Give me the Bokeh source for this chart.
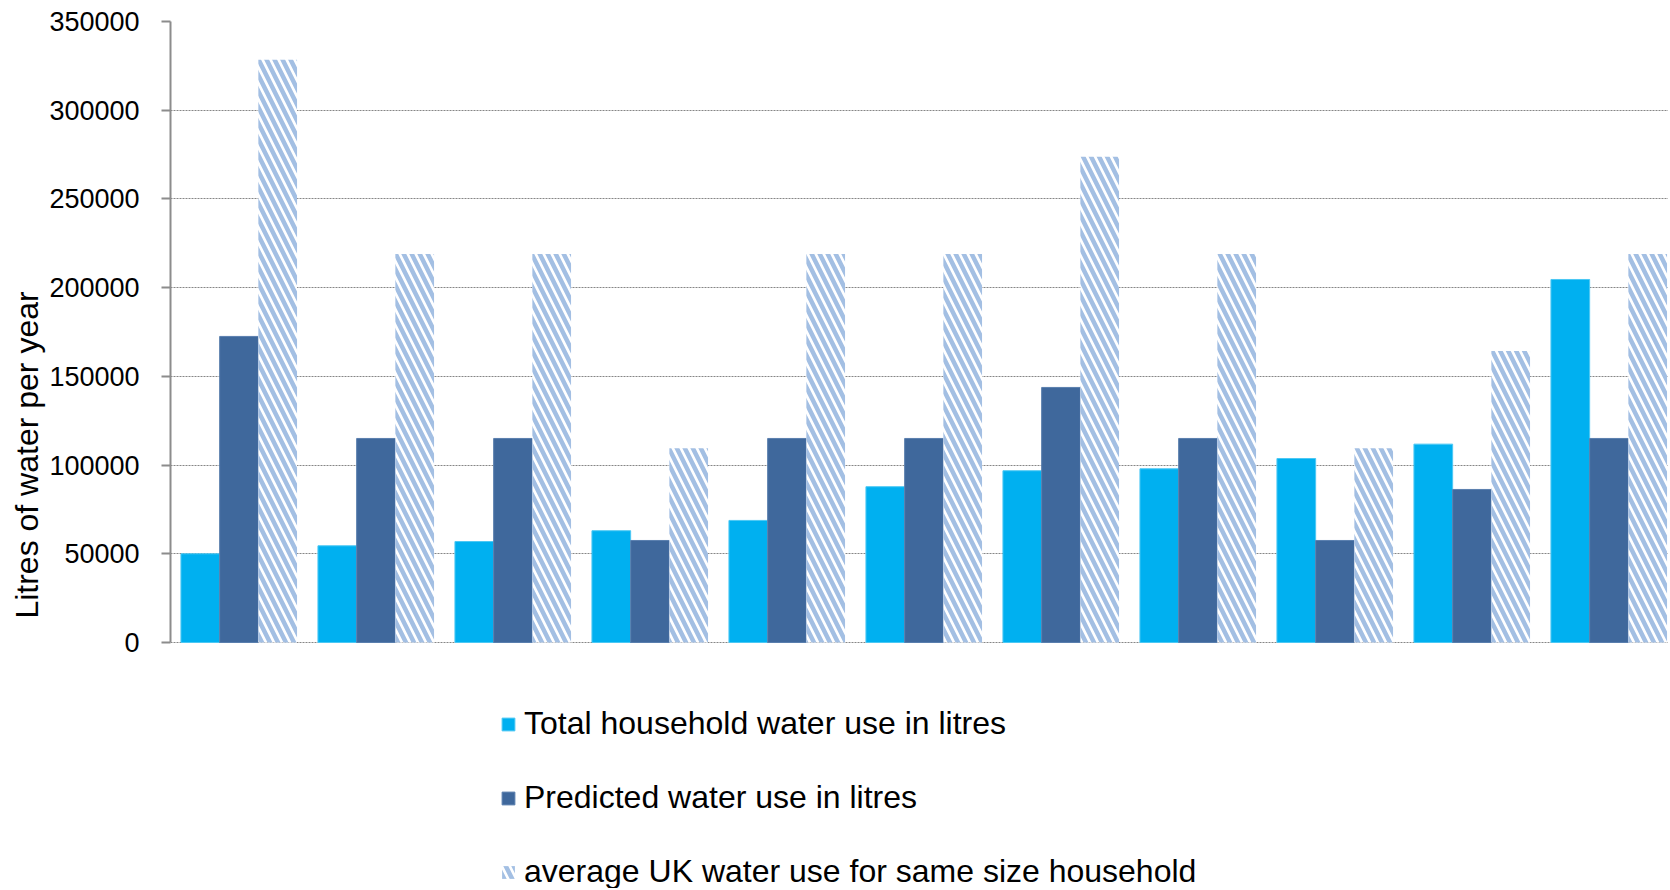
from bokeh.plotting import figure
from bokeh.models import ColumnDataSource, Range1d, FixedTicker, NumeralTickFormatter, Legend, LegendItem
from bokeh.embed import file_html
from bokeh.resources import INLINE

# ---- data ----
households = ["H1", "H2", "H3", "H4", "H5", "H6", "H7", "H8", "H9", "H10", "H11"]
total_use = [50000, 54500, 56900, 63000, 68800, 87800, 96800, 97900, 103700, 111800, 204600]
predicted_use = [172500, 115000, 115000, 57500, 115000, 115000, 143750, 115000, 57500, 86250, 115000]
uk_average = [328500, 219000, 219000, 109500, 219000, 219000, 273750, 219000, 109500, 164250, 219000]
y_ticks = [0, 50000, 100000, 150000, 200000, 250000, 300000, 350000]
series_names = ["Total household water use in litres",
                "Predicted water use in litres",
                "average UK water use for same size household"]

FONT = "Liberation Sans"
W, H = 1668, 888
LEFT, TOP = 170, 21
ZERO_Y = 642            # pixel row (in figure) of the value 0
FRAME_W = W - LEFT
SLOT_PX = 137.0
BAR = 38.7 / SLOT_PX
Y_MAX = 350000
Y_MIN = -Y_MAX * (H - ZERO_Y) / (ZERO_Y - TOP)   # room below the axis for the legend

idx = list(range(len(households)))
src = ColumnDataSource(dict(
    x1=[i + 0.5 - BAR for i in idx],
    x2=[i + 0.5 for i in idx],
    x3=[i + 0.5 + BAR for i in idx],
    total=total_use, pred=predicted_use, uk=uk_average,
))

p = figure(width=W, height=H, output_backend="svg", toolbar_location=None,
           x_range=Range1d(0, FRAME_W / SLOT_PX), y_range=Range1d(Y_MIN, Y_MAX),
           min_border_left=LEFT, min_border_right=0, min_border_top=TOP, min_border_bottom=0)
p.outline_line_color = None
p.background_fill_color = "white"
p.border_fill_color = "white"
p.xaxis.visible = False

p.xgrid.grid_line_color = None
p.ygrid.ticker = FixedTicker(ticks=y_ticks)
p.ygrid.grid_line_color = "#868686"
p.ygrid.grid_line_dash = "2 1"
p.ygrid.grid_line_width = 1

r1 = p.vbar(x="x1", top="total", width=BAR, source=src, fill_color="#00b0f0",
            line_color="#4cc8f4", line_width=1)
r2 = p.vbar(x="x2", top="pred", width=BAR, source=src, fill_color="#3f689c",
            line_color="#5a7fae", line_width=1)
r3 = p.vbar(x="x3", top="uk", width=BAR, source=src, fill_color="white",
            line_color=None, hatch_pattern="\\", hatch_color="#a3bfe3",
            hatch_weight=4.5, hatch_scale=16)

# y axis
p.yaxis.bounds = (0, Y_MAX)
p.yaxis.ticker = FixedTicker(ticks=y_ticks)
p.yaxis.formatter = NumeralTickFormatter(format="0")
p.yaxis.axis_label = "Litres of water per year"
p.yaxis.axis_label_text_font = FONT
p.yaxis.axis_label_text_font_size = "32px"
p.yaxis.axis_label_text_font_style = "normal"
p.yaxis.axis_label_text_color = "black"
p.yaxis.axis_label_standoff = 1
p.yaxis.major_label_text_font = FONT
p.yaxis.major_label_text_font_size = "27px"
p.yaxis.major_label_text_color = "black"
p.yaxis.major_label_standoff = 22
p.yaxis.axis_line_color = "#8c8c8c"
p.yaxis.axis_line_width = 2
p.yaxis.major_tick_line_color = "#8c8c8c"
p.yaxis.major_tick_line_width = 2
p.yaxis.major_tick_out = 9
p.yaxis.major_tick_in = 0
p.yaxis.minor_tick_line_color = None

legend = Legend(items=[LegendItem(label=series_names[0], renderers=[r1]),
                       LegendItem(label=series_names[1], renderers=[r2]),
                       LegendItem(label=series_names[2], renderers=[r3])],
                orientation="vertical", location=(330, -2),
                label_text_font=FONT, label_text_font_size="32px", label_text_color="black",
                glyph_width=16, glyph_height=16, label_standoff=8, label_height=37,
                spacing=37, padding=0, margin=0,
                border_line_color=None, background_fill_alpha=0)
p.add_layout(legend, "center")

open("out.html", "w").write(file_html(p, INLINE))
